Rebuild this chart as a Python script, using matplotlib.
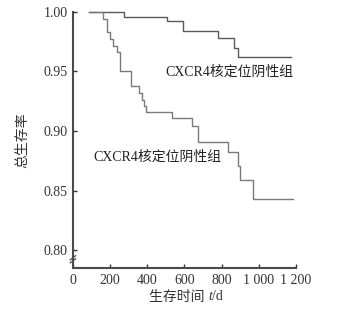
import matplotlib
matplotlib.use("Agg")
from matplotlib import pyplot as plt
from matplotlib.offsetbox import TextArea, HPacker, AnchoredOffsetbox

plt.rcParams['font.family'] = ['Liberation Serif', 'Noto Sans CJK SC']

# 生存曲线数据
t_neg = [86, 274, 505, 591, 780, 866, 888, 1172]
s_neg = [1.000, 0.996, 0.992, 0.984, 0.978, 0.970, 0.962, 0.962]

t_pos = [86, 160, 181, 199, 215, 237, 253, 310, 356, 370, 382, 392,
         531, 638, 674, 833, 889, 896, 969, 1183]
s_pos = [1.000, 0.994, 0.983, 0.977, 0.971, 0.966, 0.950, 0.938, 0.932,
         0.926, 0.921, 0.916, 0.911, 0.904, 0.891, 0.882, 0.871, 0.859,
         0.843, 0.843]

xticks = [0, 200, 400, 600, 800, 1000, 1200]
xlabels = ['0', '200', '400', '600', '800', '1 000', '1 200']
yticks = [0.80, 0.85, 0.90, 0.95, 1.00]

fig = plt.figure(figsize=(3.61, 3.12), dpi=100)
ax = fig.add_axes([0.202, 0.141, 0.618, 0.821])

ax.step(t_neg, s_neg, where='post', color='#5a5a5a', lw=1.0, clip_on=False)
ax.step(t_pos, s_pos, where='post', color='#7a7a7a', lw=1.0, clip_on=False)

ax.set_xlim(0, 1200)
ax.set_ylim(0.785, 1.0)
ax.set_xticks(xticks)
ax.set_xticklabels(xlabels)
ax.set_yticks(yticks)
ax.set_yticklabels(['%.2f' % v for v in yticks])
ax.tick_params(direction='in', length=3, width=1, colors='#333333', labelsize=10, pad=4)

for side in ['top', 'right']:
    ax.spines[side].set_visible(False)
for side in ['left', 'bottom']:
    ax.spines[side].set_color('#4a4a4a')
    ax.spines[side].set_linewidth(1.5)

# 断轴标记
for dy in [0.0, 0.012]:
    ax.plot([-0.012, 0.012], [0.02 + dy, 0.036 + dy], transform=ax.transAxes,
            color='#4a4a4a', lw=0.9, clip_on=False)

ax.text(842, 0.9494, 'CXCR4核定位阴性组', ha='center', va='center', fontsize=10, color='#222222')
ax.text(453, 0.878, 'CXCR4核定位阴性组', ha='center', va='center', fontsize=10, color='#222222')

# x 轴标题：t 用斜体
tprop = dict(fontsize=10, color='#333333')
parts = [TextArea('生存时间 ', textprops=tprop),
         TextArea('t', textprops=dict(style='italic', **tprop)),
         TextArea('/d', textprops=tprop)]
box = HPacker(children=parts, align='baseline', pad=0, sep=0)
anchored = AnchoredOffsetbox(loc='center', child=box, frameon=False,
                             bbox_to_anchor=(186 / 361, 1 - 297 / 312),
                             bbox_transform=fig.transFigure, borderpad=0)
fig.add_artist(anchored)

ax.set_ylabel('总生存率', fontsize=10, color='#333333', labelpad=10)

plt.savefig('out.png', dpi=100)
